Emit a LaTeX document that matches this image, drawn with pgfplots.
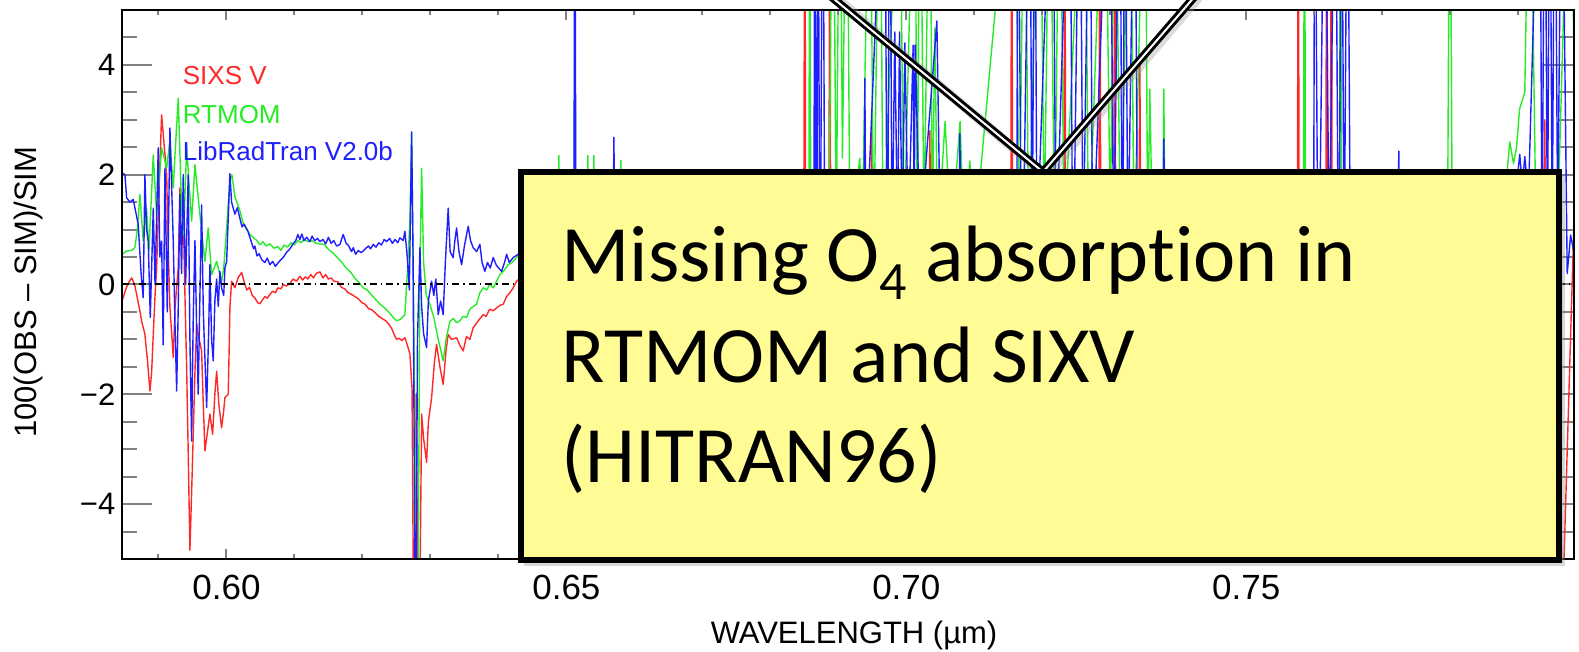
\documentclass[border=0pt]{standalone}
\usepackage{fontspec}
\setmainfont{Liberation Sans}
\newfontfamily\carlito[Ligatures={NoCommon}]{Carlito}
\usepackage{pgfplots}
\pgfplotsset{compat=1.18}

\definecolor{sixs}{RGB}{255,40,40}
\definecolor{rtmom}{RGB}{40,235,40}
\definecolor{lrt}{RGB}{30,30,255}
\definecolor{note}{RGB}{255,252,150}

\pgfplotsset{
  frame/.style={
    at={(61.2pt,46.5pt)}, anchor=south west,
    scale only axis, width=725.8pt, height=274.5pt,
    xmin=0.5847, xmax=0.7982, ymin=-5, ymax=5,
    axis line style={line width=1pt},
    tick align=inside, tick pos=both,
    tick style={line width=1pt},
  },
}

\begin{document}
\begin{tikzpicture}
\path[use as bounding box] (0,0) rectangle (789.5pt,326pt);
% data, y ticks and labels
\begin{axis}[
  frame,
  xtick=\empty, minor xtick={},
  ytick={-4,-2,0,2,4}, yticklabels={−4,−2,0,2,4},
  minor ytick={-4.5,-3.5,-3,-2.5,-1.5,-1,-0.5,0.5,1,1.5,2.5,3,3.5,4.5},
  major tick length=15pt, minor tick length=7.5pt,
  yticklabel style={font=\fontsize{15.5}{18}\selectfont},
  xlabel={WAVELENGTH (µm)},
  ylabel={100(OBS – SIM)/SIM},
  xlabel style={font=\fontsize{15.5}{18}\selectfont, at={(axis description cs:0.504,-0.1548)}, anchor=base},
  ylabel style={font=\fontsize{15.5}{18}\selectfont, at={(axis description cs:-0.0595,0.486)}, anchor=base},
  every axis plot/.append style={line width=0.7pt, line join=round},
]
% SIXS V
\addplot[sixs] coordinates {
(0.58469,-0.28) (0.58530,-0.05) (0.58570,0.05) (0.58606,0.12) (0.58650,0.00) (0.58690,-0.25)
(0.58730,-0.50) (0.58753,-0.67) (0.58800,-0.90) (0.58840,-1.40) (0.58875,-1.94) (0.58900,-1.60)
(0.58924,-0.91) (0.58950,-0.20) (0.58974,0.30) (0.59010,1.80) (0.59047,3.09) (0.59080,2.60)
(0.59121,2.00) (0.59145,0.60) (0.59169,-0.42) (0.59195,-0.90) (0.59218,-1.33) (0.59245,-0.40)
(0.59291,0.30) (0.59316,1.76) (0.59341,1.50) (0.59365,1.27) (0.59390,-0.20) (0.59415,-1.52)
(0.59440,-3.20) (0.59463,-4.84) (0.59488,-3.80) (0.59512,-2.73) (0.59537,-1.60) (0.59562,-0.73)
(0.59585,-0.90) (0.59635,-1.21) (0.59660,-2.20) (0.59684,-3.03) (0.59709,-2.80) (0.59757,-2.36)
(0.59797,-2.73) (0.59830,-2.00) (0.59856,-1.58) (0.59890,-2.20) (0.59929,-2.61) (0.59960,-2.30)
(0.59978,-2.06) (0.60026,-2.00) (0.60040,-1.20) (0.60051,-0.42) (0.60076,0.06) (0.60125,-0.06)
(0.60170,0.12) (0.60224,0.22) (0.60260,0.05) (0.60300,-0.10) (0.60340,-0.05) (0.60380,-0.20)
(0.60420,-0.25) (0.60460,-0.33) (0.60493,-0.35) (0.60530,-0.28) (0.60566,-0.22) (0.60600,-0.25)
(0.60640,-0.18) (0.60680,-0.12) (0.60720,-0.15) (0.60757,-0.06) (0.60800,-0.08) (0.60840,0.00)
(0.60880,-0.03) (0.60934,0.02) (0.60980,0.10) (0.61030,0.06) (0.61081,0.15) (0.61120,0.08)
(0.61160,0.14) (0.61200,0.10) (0.61240,0.18) (0.61280,0.12) (0.61320,0.20) (0.61375,0.23)
(0.61420,0.12) (0.61460,0.18) (0.61500,0.10) (0.61540,0.12) (0.61580,0.06) (0.61640,0.05)
(0.61690,-0.05) (0.61740,-0.08) (0.61790,-0.15) (0.61840,-0.18) (0.61890,-0.22) (0.61940,-0.26)
(0.61990,-0.33) (0.62040,-0.36) (0.62090,-0.44) (0.62140,-0.46) (0.62190,-0.52) (0.62240,-0.58)
(0.62290,-0.62) (0.62340,-0.66) (0.62387,-0.72) (0.62430,-0.80) (0.62470,-0.92) (0.62503,-1.00)
(0.62540,-0.98) (0.62580,-1.02) (0.62625,-0.97) (0.62660,-1.10) (0.62699,-1.27) (0.62730,-1.90)
(0.62750,-5.60) (0.62770,-5.60) (0.62790,-2.00) (0.62816,-5.60) (0.62846,-5.60) (0.62871,-2.36)
(0.62900,-2.80) (0.62944,-3.24) (0.62970,-2.50) (0.63018,-2.06) (0.63060,-1.40) (0.63091,-1.09)
(0.63140,-1.50) (0.63188,-1.82) (0.63230,-1.20) (0.63262,-0.91) (0.63310,-1.00) (0.63385,-0.97)
(0.63430,-1.10) (0.63482,-1.21) (0.63530,-0.95) (0.63580,-1.00) (0.63629,-0.79) (0.63680,-0.70)
(0.63730,-0.62) (0.63776,-0.55) (0.63820,-0.58) (0.63870,-0.45) (0.63924,-0.48) (0.63980,-0.42)
(0.64022,-0.38) (0.64071,-0.36) (0.64120,-0.22) (0.64170,-0.15) (0.64218,-0.06) (0.64268,0.06)
(0.64320,0.12) (0.6440,0.15) (0.6460,0.25) (0.6490,0.20) (0.6520,0.30) (0.6560,0.25) (0.6600,0.35)
(0.6650,0.30) (0.6700,0.40) (0.6750,0.35) (0.6800,0.45) (0.6840,0.40)
(0.68490,0.0) (0.68507,9) (0.68525,-3) (0.6860,0.5) (0.6870,-2) (0.68860,0.2) (0.68875,9) (0.68890,-1)
(0.6900,0.5) (0.6920,-1.5) (0.69475,0.5) (0.69493,2.8) (0.69510,0.3) (0.6990,0.6) (0.70330,0.4)
(0.70346,2.8) (0.70362,0.3) (0.7080,0.5) (0.7120,0.3) (0.71535,0.2) (0.71551,9) (0.71567,-2)
(0.7190,0.4) (0.72315,0.3) (0.72331,9) (0.72347,-2) (0.7260,0.5) (0.72830,0.2) (0.72846,9) (0.72862,-1)
(0.7295,0.3) (0.73050,0.2) (0.73066,9) (0.73082,-1) (0.7325,0.4) (0.73418,0.3) (0.73434,4.2) (0.73450,0.3)
(0.7400,0.4) (0.7450,0.3) (0.7500,0.4) (0.7550,0.3) (0.75750,0.1) (0.75765,9) (0.75780,-2) (0.7600,0.3)
(0.76168,0.2) (0.76184,9) (0.76200,-1) (0.76235,0.3) (0.76250,9) (0.76265,-1) (0.7660,0.4) (0.7700,0.3)
(0.7750,0.4) (0.7800,0.3) (0.7850,0.4) (0.7900,0.5) (0.79375,0.6) (0.7939,3.0) (0.79405,0.4)
(0.7955,0.3) (0.79654,-5.8) (0.79816,1.0)
};
% RTMOM
\addplot[rtmom] coordinates {
(0.58469,0.55) (0.58532,0.61) (0.58600,0.62) (0.58654,0.67) (0.58690,1.00) (0.58728,1.64)
(0.58776,0.79) (0.58826,1.39) (0.58860,0.60) (0.58924,2.36) (0.58974,1.27) (0.59047,2.49)
(0.59121,2.12) (0.59169,2.61) (0.59218,1.76) (0.59250,2.50) (0.59291,3.39) (0.59341,1.39)
(0.59370,0.90) (0.59415,2.49) (0.59488,1.15) (0.59537,2.18) (0.59610,1.27) (0.59684,0.42)
(0.59732,1.03) (0.59782,0.18) (0.59856,0.42) (0.59929,0.06) (0.59960,0.30) (0.60003,1.03)
(0.60051,1.88) (0.60080,2.00) (0.60125,1.60) (0.60199,1.34) (0.60250,1.10) (0.60346,0.91)
(0.60400,0.85) (0.60449,0.80) (0.60493,0.72) (0.60540,0.78) (0.60580,0.70) (0.60640,0.74)
(0.60700,0.66) (0.60757,0.69) (0.60800,0.62) (0.60850,0.72) (0.60900,0.68) (0.60950,0.76)
(0.61000,0.72) (0.61051,0.80) (0.61100,0.76) (0.61140,0.82) (0.61200,0.78) (0.61260,0.80)
(0.61320,0.75) (0.61375,0.74) (0.61441,0.73) (0.61500,0.64) (0.61560,0.58) (0.61640,0.48)
(0.61700,0.40) (0.61760,0.30) (0.61830,0.22) (0.61890,0.11) (0.61950,0.04) (0.62010,-0.06)
(0.62070,-0.10) (0.62140,-0.20) (0.62200,-0.28) (0.62260,-0.36) (0.62320,-0.42) (0.62387,-0.50)
(0.62440,-0.58) (0.62500,-0.66) (0.62551,-0.64) (0.62585,-0.60) (0.62625,-0.55) (0.62660,0.20)
(0.62699,1.16) (0.62724,2.75) (0.62745,0.50) (0.62770,-2.50) (0.62797,-5.60) (0.62820,-5.60)
(0.62845,0.20) (0.62871,2.12) (0.62900,0.40) (0.62940,-0.20) (0.62993,-0.36) (0.63050,-0.60)
(0.63115,-1.00) (0.63188,-1.39) (0.63230,-1.00) (0.63287,-0.67) (0.63340,-0.62) (0.63385,-0.70)
(0.63434,-0.66) (0.63480,-0.58) (0.63532,-0.60) (0.63580,-0.45) (0.63629,-0.40) (0.63679,-0.36)
(0.63728,-0.15) (0.63776,-0.06) (0.63830,-0.10) (0.63870,0.00) (0.63924,-0.06) (0.63970,0.05)
(0.64022,0.18) (0.64080,0.25) (0.64144,0.36) (0.64200,0.40) (0.64268,0.49) (0.64300,0.55)
(0.6440,0.60) (0.6460,0.70) (0.6480,0.75) (0.64875,0.6) (0.64890,2.35) (0.64905,0.6) (0.6500,0.7)
(0.65110,0.6) (0.65125,4.9) (0.65140,0.6) (0.65300,0.6) (0.65316,2.35) (0.65332,0.6) (0.65388,0.7)
(0.65404,2.35) (0.65420,0.7) (0.65785,0.7) (0.65801,2.26) (0.65817,0.7) (0.6620,0.8) (0.6680,0.7)
(0.6740,0.9) (0.6800,0.8) (0.6840,0.9)
(0.68565,0.5) (0.68581,9) (0.68597,-1) (0.6870,0.6) (0.68860,0.8) (0.68919,9) (0.6897,1.0)
(0.69022,9) (0.69060,2.3) (0.69125,9) (0.6917,0.8) (0.69316,2.3) (0.6935,0.8) (0.69463,9) (0.6952,0.5)
(0.69610,9) (0.6966,0.6) (0.69904,9) (0.6996,0.5) (0.70125,9) (0.7016,0.6) (0.70200,9) (0.7026,1)
(0.70350,9) (0.7038,0.8) (0.70419,4.67) (0.7046,0.8) (0.70570,2.97) (0.7066,0.8) (0.70790,2.97)
(0.7085,0.8) (0.70934,2.25) (0.7100,0.8) (0.71600,9) (0.7166,0.6) (0.71740,9) (0.7180,0.5)
(0.71960,9) (0.7203,1) (0.72110,9) (0.7218,0.6) (0.72257,9) (0.7232,0.7) (0.72625,9) (0.7268,0.5)
(0.72920,9) (0.7300,1) (0.73070,9) (0.7315,0.5) (0.73290,9) (0.7335,0.6) (0.73510,9) (0.7355,0.8)
(0.73581,3.56) (0.7362,0.8) (0.73770,0.8) (0.73787,3.56) (0.73805,0.8) (0.7450,0.9) (0.7520,0.8)
(0.75840,0.7) (0.75856,9) (0.75872,0.3) (0.7620,0.8) (0.76370,0.7) (0.76387,9) (0.76404,0.5)
(0.7700,0.9) (0.7760,0.8) (0.77960,0.9) (0.77993,9) (0.78030,0.9) (0.7860,1.0) (0.78820,1.8)
(0.78875,2.6) (0.78930,2.2) (0.78975,2.5) (0.7902,3.2) (0.79096,3.5) (0.79169,9) (0.7925,2.0)
(0.7940,1.5) (0.7960,2.0) (0.79757,9) (0.79816,4.5)
};
% LibRadTran V2.0b
\addplot[lrt] coordinates {
(0.58469,2.03) (0.58507,2.00) (0.58532,1.58) (0.58580,1.50) (0.58629,1.55) (0.58670,1.30)
(0.58703,1.09) (0.58740,0.30) (0.58753,0.07) (0.58776,-0.24) (0.58801,2.00) (0.58826,1.00)
(0.58850,0.79) (0.58880,-0.60) (0.58924,1.39) (0.58950,0.00) (0.58997,2.49) (0.59020,0.50)
(0.59047,0.79) (0.59070,-1.10) (0.59096,2.12) (0.59130,-0.50) (0.59169,2.85) (0.59218,0.79)
(0.59245,-0.80) (0.59268,-1.94) (0.59290,-0.50) (0.59316,1.64) (0.59340,0.20) (0.59365,2.00)
(0.59400,0.00) (0.59438,2.00) (0.59463,-1.00) (0.59488,-2.85) (0.59512,-0.60) (0.59537,0.80)
(0.59562,-0.80) (0.59585,-2.00) (0.59610,-0.20) (0.59635,1.45) (0.59660,-0.50) (0.59709,-2.24)
(0.59740,-0.80) (0.59757,0.36) (0.59782,-1.00) (0.59806,-1.39) (0.59830,-0.30) (0.59856,0.10)
(0.59880,-0.40) (0.59904,0.24) (0.59929,-0.06) (0.59960,-0.20) (0.59978,0.30) (0.60003,0.42)
(0.60051,2.02) (0.60076,1.50) (0.60125,1.28) (0.60160,1.40) (0.60199,1.20) (0.60230,1.05)
(0.60260,1.10) (0.60316,0.97) (0.60360,0.80) (0.60400,0.65) (0.60419,0.70) (0.60449,0.52)
(0.60480,0.56) (0.60520,0.45) (0.60566,0.40) (0.60600,0.48) (0.60640,0.36) (0.60680,0.42)
(0.60720,0.33) (0.60757,0.39) (0.60800,0.45) (0.60840,0.50) (0.60880,0.58) (0.60934,0.65)
(0.60980,0.74) (0.61020,0.80) (0.61051,0.91) (0.61081,0.82) (0.61110,0.92) (0.61140,0.80)
(0.61180,0.86) (0.61228,0.78) (0.61260,0.88) (0.61300,0.80) (0.61340,0.84) (0.61375,0.78)
(0.61420,0.82) (0.61460,0.74) (0.61500,0.86) (0.61540,0.75) (0.61580,0.80) (0.61620,0.70)
(0.61669,0.73) (0.61718,0.91) (0.61760,0.75) (0.61800,0.70) (0.61840,0.60) (0.61865,0.67)
(0.61900,0.55) (0.61940,0.62) (0.61980,0.58) (0.62012,0.61) (0.62050,0.66) (0.62090,0.70)
(0.62120,0.65) (0.62160,0.73) (0.62200,0.68) (0.62240,0.76) (0.62280,0.72) (0.62320,0.82)
(0.62356,0.78) (0.62400,0.84) (0.62440,0.75) (0.62480,0.82) (0.62520,0.76) (0.62551,0.85)
(0.62600,0.80) (0.62625,0.97) (0.62660,0.50) (0.62690,-0.10) (0.62724,2.78) (0.62745,0.50)
(0.62757,-2.00) (0.62772,-5.60) (0.62790,-5.60) (0.62810,-1.00) (0.62846,0.67) (0.62871,-0.40)
(0.62900,-0.90) (0.62944,-1.15) (0.62970,-0.30) (0.63018,0.06) (0.63050,-0.20) (0.63080,0.10)
(0.63115,-0.55) (0.63150,-0.30) (0.63188,-0.55) (0.63220,0.40) (0.63262,1.39) (0.63290,0.60)
(0.63335,0.49) (0.63360,0.80) (0.63385,1.03) (0.63420,0.60) (0.63459,0.36) (0.63500,0.70)
(0.63556,1.06) (0.63590,0.80) (0.63629,0.67) (0.63680,0.60) (0.63728,0.73) (0.63760,0.40)
(0.63801,0.24) (0.63840,0.40) (0.63880,0.30) (0.63924,0.49) (0.63970,0.35) (0.64047,0.24)
(0.64090,0.40) (0.64121,0.55) (0.64160,0.40) (0.64218,0.49) (0.64291,0.55)
(0.6440,0.50) (0.6460,0.60) (0.6490,0.55) (0.65110,0.6) (0.65125,9) (0.65140,0.5) (0.6540,0.6)
(0.65685,0.6) (0.65699,2.68) (0.65713,0.6) (0.6620,0.7) (0.6680,0.6) (0.6740,0.8) (0.6800,0.7)
(0.6845,0.7)
(0.68640,0.3) (0.68654,9) (0.68680,-2) (0.68700,9) (0.68730,-1) (0.68772,9) (0.6880,0.5)
(0.69375,0.6) (0.69390,3.75) (0.69405,0.5) (0.69684,9) (0.6972,-1) (0.69757,9) (0.6979,0.5)
(0.69830,4.6) (0.6987,0.8) (0.69900,4.6) (0.6994,0.8) (0.69978,4.4) (0.7003,0.8) (0.70100,4.36)
(0.70115,1.0) (0.70130,4.36) (0.7020,0.8) (0.70449,4.8) (0.7050,0.8) (0.70770,0.8) (0.70787,2.75)
(0.70805,0.8) (0.7120,0.7) (0.71625,0.5) (0.71640,9) (0.7170,-1) (0.71816,9) (0.7185,0.2)
(0.71890,9) (0.7192,0.6) (0.72154,9) (0.7220,0.3) (0.72404,9) (0.7245,-0.5) (0.72551,9) (0.7260,0.4)
(0.72699,9) (0.7274,0.4) (0.72993,9) (0.7305,0.5) (0.73140,9) (0.7318,-1) (0.73213,9) (0.7326,0.5)
(0.73360,9) (0.7340,0.6) (0.73770,0.7) (0.73787,2.65) (0.73805,0.7) (0.7450,0.6) (0.7540,0.7)
(0.75990,0.4) (0.76007,9) (0.7606,-1) (0.76154,9) (0.7622,0.5) (0.76310,9) (0.7636,-1) (0.76400,9)
(0.7644,0.3) (0.76488,9) (0.7653,0.6) (0.7700,0.7) (0.77228,0.7) (0.77243,2.43) (0.77258,0.7)
(0.7800,0.8) (0.7870,0.9) (0.7895,1.5) (0.79022,2.37) (0.7906,1.8) (0.79096,2.33) (0.7915,1.6)
(0.79316,9) (0.7935,0.5) (0.79390,9) (0.7943,0.6) (0.79463,9) (0.7950,0.8) (0.79537,9) (0.7958,1.0)
(0.79640,9) (0.79720,0.2) (0.79770,0.9) (0.79816,0.6)
};
% zero reference
\addplot[black, line width=1pt, dash pattern=on 3.5pt off 2pt on 0.75pt off 2pt]
  coordinates {(0.5847,0) (0.7982,0)};
\end{axis}
% same frame again, carrying the shorter wavelength ticks and their labels
\begin{axis}[
  frame,
  ytick=\empty, minor ytick={},
  xtick={0.60,0.65,0.70,0.75}, xticklabels={0.60,0.65,0.70,0.75},
  minor xtick={0.59,0.61,0.62,0.63,0.64,0.66,0.67,0.68,0.69,0.71,0.72,0.73,0.74,0.76,0.77,0.78,0.79},
  major tick length=5pt, minor tick length=2.7pt,
  xticklabel style={font=\fontsize{17.5}{20}\selectfont, yshift=-4.5pt},
]
\end{axis}

% overlay drawn in image pixel units (origin top left)
\begin{scope}[shift={(0,326pt)}, x=0.5pt, y=-0.5pt]
  \begin{scope}[font=\fontsize{13}{15}\selectfont]
    \node[anchor=base west, inner sep=0, text=sixs]  at (182.5,84.5)  {SIXS V};
    \node[anchor=base west, inner sep=0, text=rtmom] at (182.5,123.4) {RTMOM};
    \node[anchor=base west, inner sep=0, text=lrt]   at (182.5,160.6) {LibRadTran V2.0b};
  \end{scope}
  % callout pointer
  \draw[black!40, opacity=0.35, line width=5pt, line join=miter] (815,-20) -- (1046,176) -- (1213,-20);
  \draw[line width=1.5pt, double=white, double distance=1pt, line join=miter]
    (811,-20) -- (1043,172) -- (1209,-20);
  % note box with soft shadow
  \fill[black!45, opacity=0.35] (524,176) rectangle (1565,566);
  \fill[black!30, opacity=0.3] (523,175) rectangle (1563,563);
  \draw[line width=3pt, fill=note] (521,172) rectangle (1559,560);
  \begin{scope}[font=\carlito\fontsize{40}{48}\selectfont]
    \node[anchor=base west, inner sep=0] at (561,282)
      {Missing O\raisebox{-9pt}{\fontsize{27}{30}\selectfont 4} absorption in};
    \node[anchor=base west, inner sep=0] at (561,383) {RTMOM and SIXV};
    \node[anchor=base west, inner sep=0] at (561,483) {(HITRAN96)};
  \end{scope}
\end{scope}
\end{tikzpicture}
\end{document}
